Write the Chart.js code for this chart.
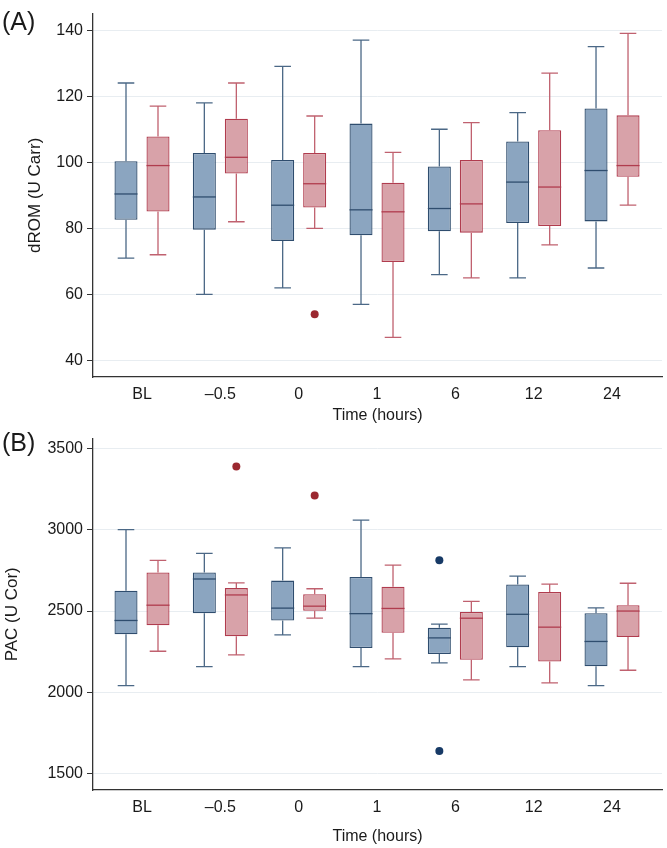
<!DOCTYPE html>
<html>
<head>
<meta charset="utf-8">
<script src="https://cdn.jsdelivr.net/npm/chart.js@4.4.1/dist/chart.umd.min.js"></script>
<style>
  body { margin: 0; background: #fff; }
  .panel { position: absolute; left: 0; width: 667px; }
  .tag { position: absolute; left: 2px; font: 25px 'Liberation Sans', Arial, sans-serif; color: #1a1a1a; line-height: 25px; }
</style>
</head>
<body>
<div class="panel" style="top:0;height:425px"><canvas id="dromChart"></canvas></div>
<div class="panel" style="top:425px;height:423px"><canvas id="pacChart"></canvas></div>
<div class="tag" style="top:9px">(A)</div>
<div class="tag" style="top:430px">(B)</div>
<script>
const timeLabels = ['BL', '–0.5', '0', '1', '6', '12', '24'];

// each entry: [min, q1, median, q3, max]
const dromBlue = [
  [71, 82.6, 90.4, 100.3, 124],
  [60, 79.6, 89.5, 102.8, 118],
  [62, 76.2, 87, 100.7, 129],
  [57, 77.9, 85.6, 111.7, 137],
  [66, 79.1, 86, 98.7, 110],
  [65, 81.6, 94, 106.3, 115],
  [68, 82.1, 97.5, 116.3, 135]
];
const dromRed = [
  [72, 85.1, 99, 107.8, 117],
  [82, 96.6, 101.5, 113.2, 124],
  [80, 86.3, 93.5, 102.8, 114],
  [47, 69.8, 85, 93.8, 103],
  [65, 78.7, 87.4, 100.7, 112],
  [75, 80.7, 92.5, 109.7, 127],
  [87, 95.6, 99, 114.2, 139]
];
const dromBlueOutliers = [];
const dromRedOutliers = [[2, 54]];
const dromTicks = [40, 60, 80, 100, 120, 140];

const pacBlue = [
  [2041, 2357, 2442, 2625, 3000],
  [2158, 2486, 2697, 2737, 2854],
  [2353, 2442, 2518, 2687, 2888],
  [2158, 2273, 2484, 2709, 3059],
  [2182, 2236, 2335, 2397, 2420],
  [2158, 2277, 2480, 2663, 2715],
  [2041, 2160, 2313, 2486, 2520]
];
const pacRed = [
  [2253, 2412, 2536, 2737, 2812],
  [2230, 2345, 2599, 2641, 2673],
  [2456, 2502, 2530, 2603, 2637],
  [2206, 2367, 2516, 2649, 2782],
  [2077, 2200, 2456, 2494, 2560],
  [2059, 2190, 2401, 2617, 2665],
  [2136, 2341, 2500, 2536, 2671]
];
const pacBlueOutliers = [[4, 2812], [4, 1639]];
const pacRedOutliers = [[1, 3389], [2, 3210]];
const pacTicks = [1500, 2000, 2500, 3000, 3500];

const FONT = "'Liberation Sans', Arial, sans-serif";
const TEXT = '#1a1a1a';

const blueStyle = { fill: '#8ba5c0', border: '#2f4d6e', whisker: '#4b6886', dot: '#173a66' };
const redStyle = { fill: '#d8a2a9', border: '#b03c4e', whisker: '#c0616f', dot: '#9b2830' };

// whiskers, medians and outliers on top of the floating bars
const boxExtras = {
  id: 'boxExtras',
  afterDatasetsDraw(chart) {
    const { ctx } = chart;
    const yScale = chart.scales.y;
    chart.data.datasets.forEach((ds, di) => {
      const meta = chart.getDatasetMeta(di);
      ctx.save();
      ctx.lineWidth = 1.3;
      meta.data.forEach((bar, i) => {
        const s = ds.stats[i];
        const half = bar.width / 2;
        const cap = bar.width * 0.36;
        const yMin = yScale.getPixelForValue(s[0]);
        const yQ1 = yScale.getPixelForValue(s[1]);
        const yMed = yScale.getPixelForValue(s[2]);
        const yQ3 = yScale.getPixelForValue(s[3]);
        const yMax = yScale.getPixelForValue(s[4]);
        ctx.strokeStyle = ds.whiskerColor;
        ctx.beginPath();
        ctx.moveTo(bar.x, yMax); ctx.lineTo(bar.x, yQ3);
        ctx.moveTo(bar.x, yQ1); ctx.lineTo(bar.x, yMin);
        ctx.moveTo(bar.x - cap, yMax); ctx.lineTo(bar.x + cap, yMax);
        ctx.moveTo(bar.x - cap, yMin); ctx.lineTo(bar.x + cap, yMin);
        ctx.stroke();
        ctx.strokeStyle = ds.borderColor;
        ctx.beginPath();
        ctx.moveTo(bar.x - half, yMed); ctx.lineTo(bar.x + half, yMed);
        ctx.stroke();
      });
      ctx.fillStyle = ds.dotColor;
      ds.outliers.forEach(([i, v]) => {
        const bar = meta.data[i];
        ctx.beginPath();
        ctx.arc(bar.x, yScale.getPixelForValue(v), 4, 0, Math.PI * 2);
        ctx.fill();
      });
      ctx.restore();
    });
  }
};

function boxDataset(stats, outliers, style) {
  return {
    data: stats.map((s, i) => ({ x: i, y: [s[1], s[3]] })),
    stats: stats,
    outliers: outliers,
    backgroundColor: style.fill,
    borderColor: style.border,
    whiskerColor: style.whisker,
    dotColor: style.dot,
    borderWidth: 1.3,
    borderSkipped: false,
    categoryPercentage: 0.817,
    barPercentage: 0.72
  };
}

function makePanel(id, blue, red, blueOut, redOut, yTicks, yMin, yMax, yTitle, opts) {
  new Chart(document.getElementById(id), {
    type: 'bar',
    data: {
      datasets: [boxDataset(blue, blueOut, blueStyle), boxDataset(red, redOut, redStyle)]
    },
    options: {
      responsive: true,
      maintainAspectRatio: false,
      animation: false,
      layout: { padding: { top: opts.top, right: 5, left: 0, bottom: 0 } },
      plugins: { legend: { display: false }, tooltip: { enabled: false } },
      scales: {
        x: {
          type: 'linear',
          offset: false,
          min: -0.6255,
          max: 6.638,
          afterBuildTicks: (scale) => { scale.ticks = timeLabels.map((_, i) => ({ value: i })); },
          afterFit: (scale) => { scale.height = opts.xHeight; },
          grid: { display: false, drawTicks: false, offset: false },
          border: { color: '#333', width: 1.3 },
          ticks: {
            color: TEXT, padding: 8, maxRotation: 0, autoSkip: false,
            font: { family: FONT, size: 16 },
            callback: (v) => timeLabels[v]
          },
          title: {
            display: true, text: 'Time (hours)', color: TEXT,
            font: { family: FONT, size: 16 },
            padding: { top: 0, bottom: opts.xTitlePad }
          }
        },
        y: {
          min: yMin,
          max: yMax,
          afterBuildTicks: (scale) => { scale.ticks = yTicks.map((v) => ({ value: v })); },
          afterFit: (scale) => { scale.width = 93; },
          grid: { color: '#e8edf1', tickColor: '#333', tickLength: 6, lineWidth: 1 },
          border: { color: '#333', width: 1.3 },
          ticks: {
            color: TEXT, padding: 4, font: { family: FONT, size: 16 },
            callback: (v) => String(v)
          },
          title: {
            display: true, text: yTitle, color: TEXT,
            font: { family: FONT, size: 17 },
            padding: { top: opts.yTitlePad, bottom: 0 }
          }
        }
      }
    },
    plugins: [boxExtras]
  });
}

makePanel('dromChart', dromBlue, dromRed, dromBlueOutliers, dromRedOutliers,
  dromTicks, 35, 145, 'dROM (U Carr)', { top: 3, xHeight: 48, xTitlePad: 0, yTitlePad: 25 });
makePanel('pacChart', pacBlue, pacRed, pacBlueOutliers, pacRedOutliers,
  pacTicks, 1400, 3560, 'PAC (U Cor)', { top: 7, xHeight: 58, xTitlePad: 2, yTitlePad: 2 });
</script>
</body>
</html>
